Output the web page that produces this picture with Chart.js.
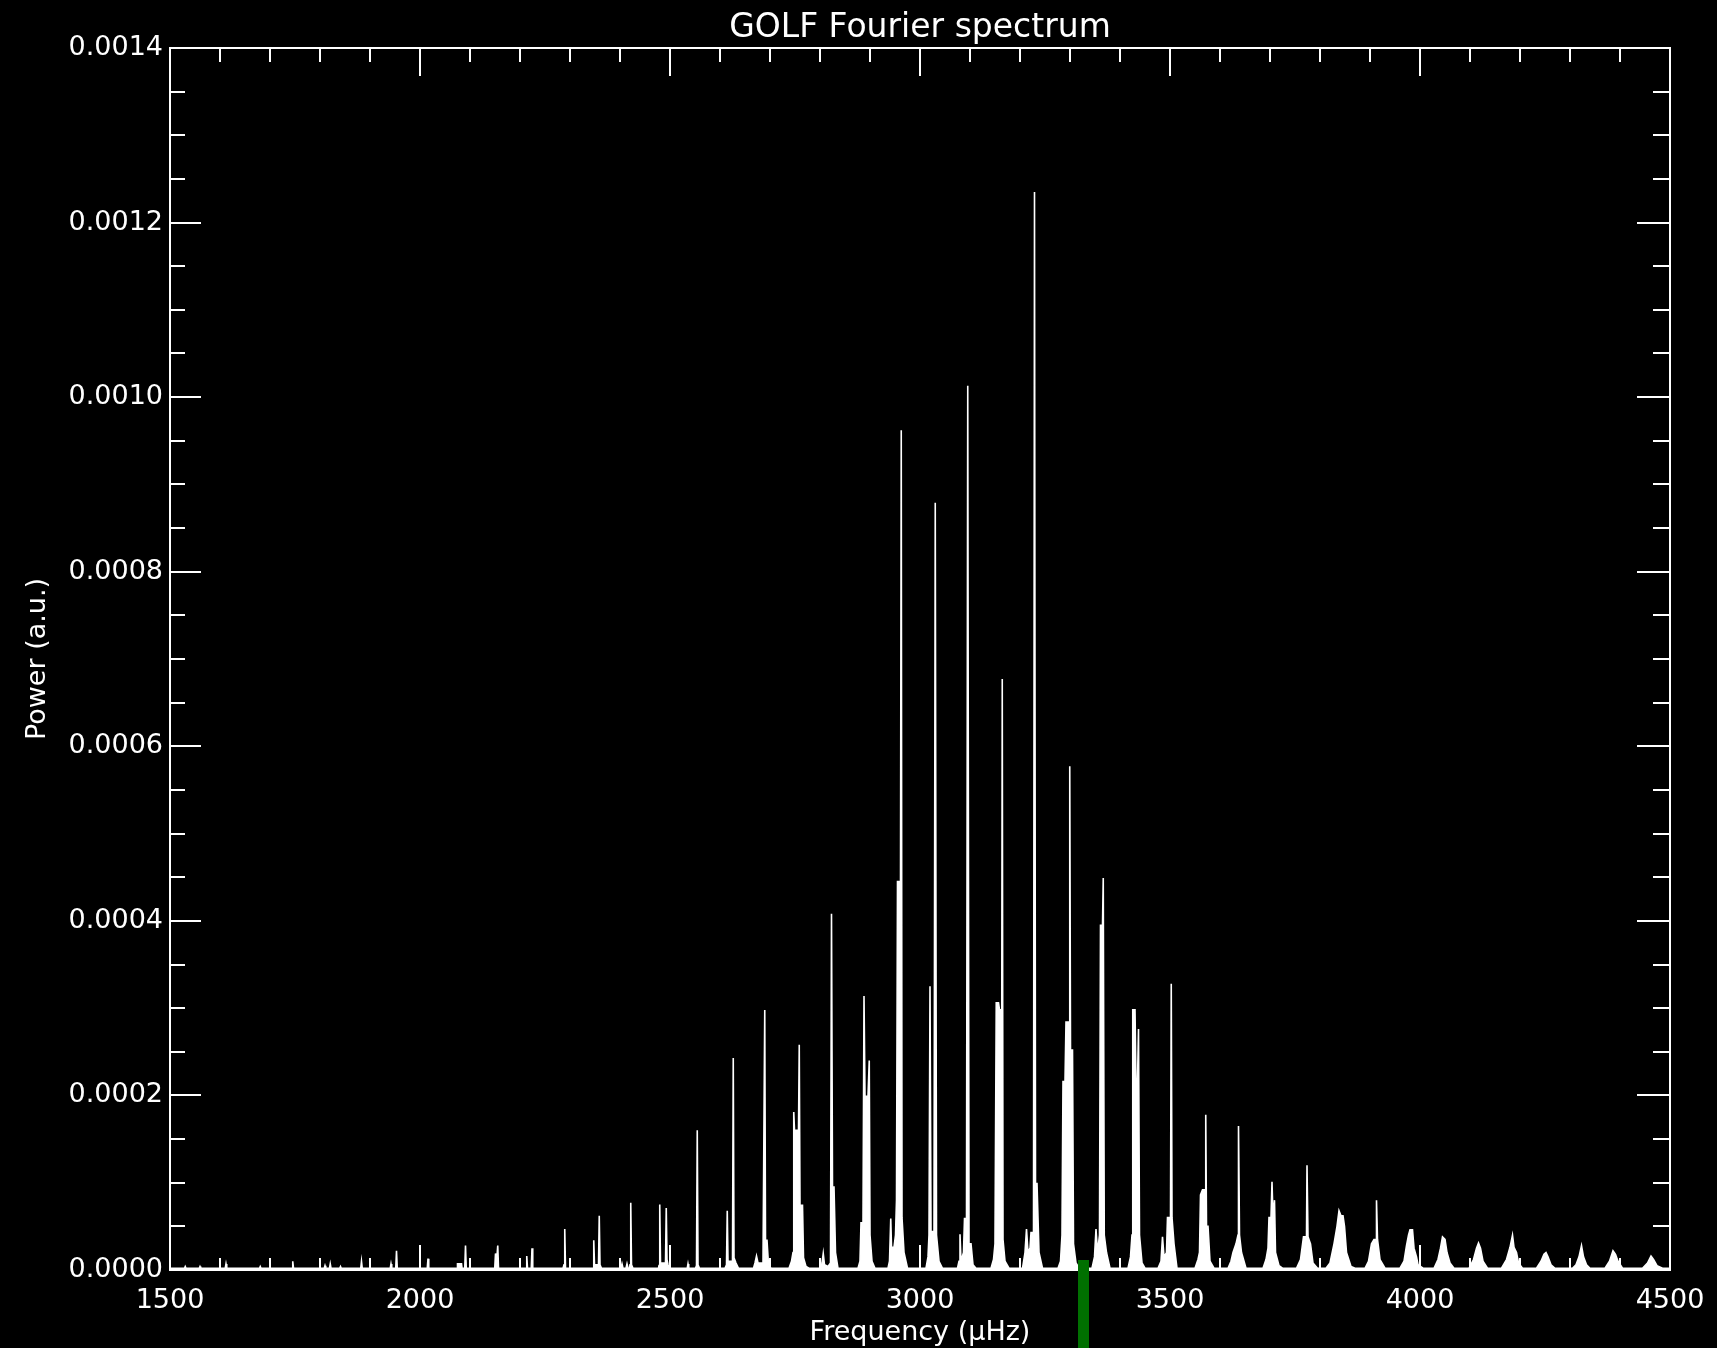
<!DOCTYPE html>
<html><head><meta charset="utf-8">
<script src="https://cdn.jsdelivr.net/npm/chart.js@4.4.0/dist/chart.umd.min.js"></script>
<style>html,body{margin:0;padding:0;background:#000;overflow:hidden}canvas{display:block}</style>
</head><body>
<canvas id="c" width="1717" height="1348"></canvas>
<script>
const chartTitle = 'GOLF Fourier spectrum';
const xAxisTitle = 'Frequency (\u03bcHz)';
const yAxisTitle = 'Power (a.u.)';
const xTickValues = [1500, 2000, 2500, 3000, 3500, 4000, 4500];
const xTickLabels = ['1500', '2000', '2500', '3000', '3500', '4000', '4500'];
const yTickValues = [0, 0.0002, 0.0004, 0.0006, 0.0008, 0.0010, 0.0012, 0.0014];
const yTickLabels = ['0.0000', '0.0002', '0.0004', '0.0006', '0.0008', '0.0010', '0.0012', '0.0014'];
const xMinorStep = 100;
const yMinorStep = 0.00005;
const markerFreq = 3327;

// [frequency (µHz), power (a.u.)]
const spectrum = [
[1500,2e-6],
[1529,2e-6],[1530.5,4e-6],[1532,2e-6],
[1558.5,2e-6],[1560,4e-6],[1561.5,2e-6],
[1610.5,2e-6],[1612,7e-6],[1613.5,2e-6],
[1679,2e-6],[1680.5,4e-6],[1682,2e-6],
[1744,2e-6],[1745.5,10e-6],[1747,2e-6],
[1808.5,2e-6],[1810,5e-6],[1811.5,2e-6],
[1819,2e-6],[1820.5,7e-6],[1822,2e-6],
[1839.5,2e-6],[1841,4e-6],[1842.5,2e-6],
[1881.5,2e-6],[1883,10e-6],[1884.5,2e-6],
[1940.5,2e-6],[1942,7e-6],[1943.5,2e-6],
[1951.5,2e-6],[1953,22e-6],[1954.5,2e-6],
[2014.5,2e-6],[2016,13e-6],[2017.5,2e-6],
[2074,2e-6],[2075,7e-6],[2083,7e-6],[2084,2e-6],
[2089.5,2e-6],[2091,28e-6],[2092.5,2e-6],
[2149.5,2e-6],[2151,19e-6],[2153,8e-6],[2155.5,28e-6],[2157,2e-6],
[2212,2e-6],[2213.5,16e-6],[2215,2e-6],
[2222.5,2e-6],[2224,25e-6],[2225.5,2e-6],
[2286,2e-6],[2288,6e-6],[2289.5,47e-6],[2291,2e-6],
[2346,2e-6],[2347.5,34e-6],[2349,6e-6],[2357,6e-6],[2358.5,62e-6],[2360,6e-6],[2363,2e-6],
[2402,2e-6],[2404,7e-6],[2406,2e-6],[2412,2e-6],[2414,7e-6],[2416,2e-6],
[2419,2e-6],[2420,6e-6],[2421.5,77e-6],[2423,6e-6],[2426,2e-6],
[2477,2e-6],[2478,5e-6],[2479.5,75e-6],[2481,8e-6],[2491,8e-6],[2492.5,71e-6],[2494,12e-6],[2496,6e-6],[2499,2e-6],
[2534.5,2e-6],[2536,7e-6],[2537.5,2e-6],
[2551,2e-6],[2553,5e-6],[2554.5,160e-6],[2556,6e-6],[2559,2e-6],
[2610,2e-6],[2613,6e-6],[2614.5,68e-6],[2616,10e-6],[2625,10e-6],[2626.5,243e-6],[2628,14e-6],[2632,8e-6],[2637,2e-6],
[2667,2e-6],[2670,8e-6],[2673,16e-6],[2676,8e-6],[2686,8e-6],[2689.5,298e-6],[2691,34e-6],[2694,34e-6],[2697,6e-6],[2702,2e-6],
[2738,2e-6],[2743,10e-6],[2746,20e-6],[2747.5,181e-6],[2749,160e-6],[2757,160e-6],[2758.5,258e-6],[2760,74e-6],[2765,74e-6],[2767,14e-6],[2772,4e-6],[2778,2e-6],
[2802,2e-6],[2804,8e-6],[2806.5,19e-6],[2809,6e-6],[2816,4e-6],[2821,8e-6],[2823,408e-6],[2825,95e-6],[2828,95e-6],[2831,20e-6],[2836,2e-6],
[2876,2e-6],[2880,10e-6],[2882,54e-6],[2886,54e-6],[2888,314e-6],[2890,199e-6],[2896,199e-6],[2898.5,240e-6],[2900,40e-6],[2904,10e-6],[2910,2e-6],
[2936,2e-6],[2939,10e-6],[2941.5,59e-6],[2943,26e-6],[2948,26e-6],[2951,40e-6],[2953,80e-6],[2955,445e-6],[2961,445e-6],[2962.5,962e-6],[2964,60e-6],[2968,20e-6],[2975,2e-6],
[3012,2e-6],[3016,15e-6],[3018,40e-6],[3020,325e-6],[3022,44e-6],[3028,44e-6],[3030.5,879e-6],[3033,40e-6],[3038,10e-6],[3045,2e-6],
[3075,2e-6],[3078,10e-6],[3080,41e-6],[3082,10e-6],[3087,20e-6],[3089,59e-6],[3093,59e-6],[3095.5,1013e-6],[3098,30e-6],[3102,30e-6],[3106,6e-6],[3112,2e-6],
[3142,2e-6],[3147,12e-6],[3150,30e-6],[3152.5,306e-6],[3157,306e-6],[3159,298e-6],[3163.5,298e-6],[3164.5,677e-6],[3166,35e-6],[3170,10e-6],[3178,2e-6],
[3205,2e-6],[3210,20e-6],[3213,47e-6],[3216,20e-6],[3220,25e-6],[3222,43e-6],[3227,43e-6],[3229,1235e-6],[3231,99e-6],[3234,99e-6],[3238,20e-6],[3245,2e-6],
[3276,2e-6],[3281,10e-6],[3284,40e-6],[3286,216e-6],[3290,216e-6],[3292,284e-6],[3298,284e-6],[3299.5,577e-6],[3301,252e-6],[3305,252e-6],[3307,30e-6],[3312,8e-6],[3318,2e-6],
[3344,2e-6],[3349,15e-6],[3352,47e-6],[3355,20e-6],[3359,40e-6],[3361,395e-6],[3365,395e-6],[3366.5,449e-6],[3368.5,40e-6],[3373,20e-6],[3380,2e-6],
[3416,2e-6],[3421,15e-6],[3424,40e-6],[3425.5,298e-6],[3430,298e-6],[3432,216e-6],[3435,216e-6],[3437,276e-6],[3439,40e-6],[3444,8e-6],[3450,2e-6],
[3476,2e-6],[3482,10e-6],[3485,38e-6],[3488,15e-6],[3493,20e-6],[3495,60e-6],[3501,60e-6],[3502.5,328e-6],[3504,60e-6],[3508,30e-6],[3514,2e-6],
[3550,2e-6],[3556,12e-6],[3559,20e-6],[3561,86e-6],[3565,92e-6],[3570.5,92e-6],[3571.5,178e-6],[3573,50e-6],[3576,50e-6],[3580,10e-6],[3588,2e-6],
[3616,2e-6],[3622,10e-6],[3626,20e-6],[3632,30e-6],[3636,40e-6],[3637,165e-6],[3639,40e-6],[3643,20e-6],[3652,2e-6],
[3686,2e-6],[3692,12e-6],[3696,25e-6],[3698,60e-6],[3702,60e-6],[3704,101e-6],[3706,60e-6],[3709,80e-6],[3711,20e-6],[3718,5e-6],[3725,2e-6],
[3753,2e-6],[3761,12e-6],[3767,38e-6],[3773,38e-6],[3774,120e-6],[3776,38e-6],[3781,30e-6],[3786,8e-6],[3795,2e-6],
[3812,2e-6],[3820,8e-6],[3828,30e-6],[3834,50e-6],[3838,68e-6],[3842,62e-6],[3846,62e-6],[3849,50e-6],[3853,20e-6],[3862,4e-6],[3870,2e-6],
[3890,2e-6],[3897,10e-6],[3903,30e-6],[3908,35e-6],[3912,35e-6],[3913,80e-6],[3915,35e-6],[3920,12e-6],[3930,2e-6],
[3960,2e-6],[3968,10e-6],[3973,28e-6],[3977,40e-6],[3980,46e-6],[3985,46e-6],[3988,25e-6],[3993,15e-6],[3996,6e-6],[4006,2e-6],
[4028,2e-6],[4036,12e-6],[4041,25e-6],[4045,38e-6],[4050,35e-6],[4054,20e-6],[4060,8e-6],[4068,2e-6],
[4098,2e-6],[4107,12e-6],[4113,25e-6],[4117,31e-6],[4121,25e-6],[4126,10e-6],[4135,2e-6],
[4163,2e-6],[4173,12e-6],[4180,26e-6],[4185,40e-6],[4188,26e-6],[4193,20e-6],[4197,8e-6],[4205,2e-6],
[4233,2e-6],[4242,10e-6],[4248,18e-6],[4252,20e-6],[4256,15e-6],[4262,6e-6],[4270,2e-6],
[4305,2e-6],[4312,6e-6],[4318,15e-6],[4323,28e-6],[4327,15e-6],[4333,6e-6],[4340,2e-6],
[4370,2e-6],[4379,10e-6],[4386,22e-6],[4391,18e-6],[4396,10e-6],[4405,2e-6],
[4445,2e-6],[4455,8e-6],[4462,16e-6],[4467,12e-6],[4474,5e-6],[4485,2e-6],
[4500,2e-6]
];

const FONT = "'DejaVu Sans', sans-serif";

const framePlugin = {
  id: 'frame',
  beforeDraw(chart) {
    const ctx = chart.ctx;
    ctx.save(); ctx.fillStyle = '#000'; ctx.fillRect(0, 0, chart.width, chart.height); ctx.restore();
  },
  afterDatasetsDraw(chart) {
    const {ctx, chartArea: a, scales: {x, y}} = chart;
    ctx.save();
    ctx.strokeStyle = '#fff';
    ctx.lineWidth = 2;
    ctx.strokeRect(a.left, a.top, a.right - a.left, a.bottom - a.top);
    ctx.beginPath();
    const nx = Math.round((x.max - x.min) / xMinorStep);
    for (let i = 0; i <= nx; i++) {
      const v = x.min + i * xMinorStep;
      const px = Math.round(x.getPixelForValue(v));
      const major = xTickValues.includes(v);
      ctx.moveTo(px, a.top); ctx.lineTo(px, a.top + (major ? 28 : 14));
      ctx.moveTo(px, a.bottom); ctx.lineTo(px, a.bottom - (major ? 25 : 12));
    }
    const ny = Math.round((y.max - y.min) / yMinorStep);
    for (let i = 0; i <= ny; i++) {
      const v = y.min + i * yMinorStep;
      const py = Math.round(y.getPixelForValue(v));
      const major = i % 4 === 0;
      ctx.moveTo(a.left, py); ctx.lineTo(a.left + (major ? 31 : 15), py);
      ctx.moveTo(a.right, py); ctx.lineTo(a.right - (major ? 33 : 17), py);
    }
    ctx.stroke();
    const mx = x.getPixelForValue(markerFreq);
    ctx.fillStyle = '#007000';
    ctx.fillRect(mx - 5.5, a.bottom - 10, 11, chart.height - (a.bottom - 10));
    ctx.restore();
  }
};

new Chart(document.getElementById('c'), {
  type: 'line',
  data: {
    datasets: [{
      data: spectrum.map(p => ({x: p[0], y: p[1]})),
      borderColor: '#ffffff',
      backgroundColor: '#ffffff',
      borderWidth: 1.6,
      pointRadius: 0,
      fill: 'origin',
      tension: 0
    }]
  },
  options: {
    responsive: false,
    animation: false,
    devicePixelRatio: 1,
    layout: {padding: {left: 0, right: 47, top: 0, bottom: 0}},
    plugins: {
      legend: {display: false},
      tooltip: {enabled: false},
      title: {
        display: true, text: chartTitle, color: '#fff', fullSize: false,
        font: {family: FONT, size: 33, weight: 'normal', lineHeight: 1.15},
        padding: {top: 9, bottom: 1.05}
      }
    },
    scales: {
      x: {
        type: 'linear', min: 1500, max: 4500,
        afterBuildTicks: s => { s.ticks = xTickValues.map(v => ({value: v})); },
        afterFit: s => { s.height = 78; s.paddingLeft = 0; s.paddingRight = 0; },
        ticks: {
          color: '#fff', font: {family: FONT, size: 27}, maxRotation: 0, autoSkip: false, padding: 15,
          callback: (v, i) => xTickLabels[i]
        },
        grid: {display: false, drawTicks: false},
        border: {display: false},
        title: {display: true, text: xAxisTitle, color: '#fff', font: {family: FONT, size: 27, lineHeight: 1.0}, padding: {top: 0, bottom: 2}}
      },
      y: {
        type: 'linear', min: 0, max: 0.0014,
        afterBuildTicks: s => { s.ticks = yTickValues.map(v => ({value: v})); },
        afterFit: s => { s.width = 170; },
        ticks: {
          color: '#fff', font: {family: FONT, size: 27}, autoSkip: false, padding: 7,
          callback: (v, i) => yTickLabels[i]
        },
        grid: {display: false, drawTicks: false},
        border: {display: false},
        title: {display: true, text: yAxisTitle, color: '#fff', font: {family: FONT, size: 27, lineHeight: 1.2}, padding: {top: 22, bottom: 0}}
      }
    }
  },
  plugins: [framePlugin]
});
</script>
</body></html>
